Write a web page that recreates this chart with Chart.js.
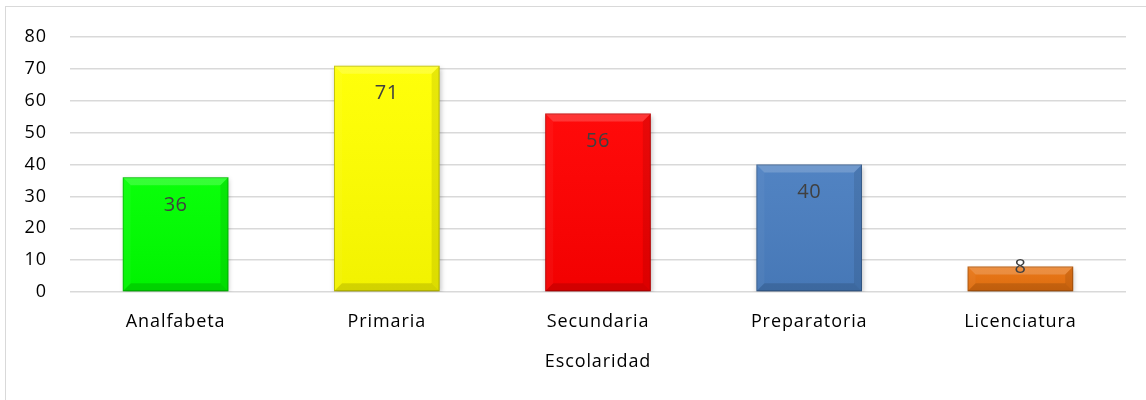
<!DOCTYPE html>
<html>
<head>
<meta charset="utf-8">
<script src="https://cdn.jsdelivr.net/npm/chart.js@4.4.0/dist/chart.umd.min.js"></script>
<style>
  html, body { margin: 0; padding: 0; background: #fff; overflow: hidden; }
  #wrap { position: relative; width: 1146px; height: 400px; }
  #frame { position: absolute; left: 5px; top: 6px; width: 1200px; height: 500px;
           border: 1.5px solid #d9d9d9; box-sizing: border-box; }
  canvas { position: absolute; left: 0; top: 0; }
</style>
</head>
<body>
<div id="wrap">
  <div id="frame"></div>
  <canvas id="chart" width="1146" height="400"></canvas>
</div>
<script>
// Escolaridad: number of people per schooling level
const categories = ['Analfabeta', 'Primaria', 'Secundaria', 'Preparatoria', 'Licenciatura'];
const values = [36, 71, 56, 40, 8];
const barColors = ['#00FF00', '#FFFF00', '#FF0000', '#4A7EC0', '#E8720F'];
const axisTitle = 'Escolaridad';
const yTicks = [0, 10, 20, 30, 40, 50, 60, 70, 80];

const FONT = '"Open Sans", "Noto Sans", sans-serif';

// Bevelled bar faces: light top/left edges, dark right/bottom edges
const bevelPlugin = {
  id: 'bevel',
  beforeDraw(chart) {
    chart.ctx.letterSpacing = '0.9px';
  },
  beforeDatasetsDraw(chart) {
    const ctx = chart.ctx;
    ctx.save();
    ctx.shadowColor = 'rgba(0,0,0,0.25)';
    ctx.shadowBlur = 5;
    ctx.shadowOffsetX = 1;
    ctx.shadowOffsetY = 2;
  },
  afterDatasetsDraw(chart) {
    const ctx = chart.ctx;
    ctx.restore();
    const meta = chart.getDatasetMeta(0);
    meta.data.forEach((bar, i) => {
      const l = bar.x - bar.width / 2, r = bar.x + bar.width / 2;
      const t = bar.y, b = bar.base;
      const h = b - t;
      const d = Math.min(8, h / 2.5);
      const face = (pts, color) => {
        ctx.beginPath();
        ctx.moveTo(pts[0][0], pts[0][1]);
        for (let k = 1; k < pts.length; k++) ctx.lineTo(pts[k][0], pts[k][1]);
        ctx.closePath();
        ctx.fillStyle = color;
        ctx.fill();
      };
      ctx.save();
      const g = ctx.createLinearGradient(0, t, 0, b);
      g.addColorStop(0, 'rgba(255,255,255,0.04)');
      g.addColorStop(1, 'rgba(0,0,0,0.05)');
      ctx.fillStyle = g;
      ctx.fillRect(l, t, r - l, h);
      face([[l, t], [r, t], [r - d, t + d], [l + d, t + d]], 'rgba(255,255,255,0.18)');
      face([[l, t], [l + d, t + d], [l + d, b - d], [l, b]], 'rgba(255,255,255,0.04)');
      face([[r, t], [r, b], [r - d, b - d], [r - d, t + d]], 'rgba(0,0,0,0.09)');
      face([[l, b], [l + d, b - d], [r - d, b - d], [r, b]], 'rgba(0,0,0,0.13)');
      ctx.strokeStyle = 'rgba(0,0,0,0.22)';
      ctx.lineWidth = 1;
      ctx.strokeRect(l + 0.5, t + 0.5, r - l - 1, h - 1);
      ctx.restore();

      // value label just inside the top of the bar
      const v = chart.data.datasets[0].data[i];
      const ly = h > 50 ? t + 28 : t + 1;
      ctx.save();
      ctx.font = '20px ' + FONT;
      ctx.fillStyle = '#404040';
      ctx.textAlign = 'center';
      ctx.textBaseline = 'middle';
      ctx.letterSpacing = '0.5px';
      ctx.fillText(String(v), bar.x, ly);
      ctx.restore();
    });
  }
};

new Chart(document.getElementById('chart'), {
  type: 'bar',
  data: {
    labels: categories,
    datasets: [{
      data: values,
      backgroundColor: barColors,
      borderWidth: 0,
      categoryPercentage: 1,
      barPercentage: 0.5
    }]
  },
  options: {
    responsive: false,
    animation: false,
    devicePixelRatio: 1,
    layout: { padding: { left: 0, right: 20, top: 37, bottom: 0 } },
    plugins: {
      legend: { display: false },
      tooltip: { enabled: false }
    },
    scales: {
      x: {
        grid: { display: false, drawTicks: false },
        border: { display: false },
        ticks: { color: '#000', font: { family: FONT, size: 18 }, padding: 19 },
        title: {
          display: true, text: axisTitle, color: '#000',
          font: { family: FONT, size: 18 }, padding: { top: 10, bottom: 27 }
        },
        afterFit(scale) { scale.height = 108; }
      },
      y: {
        min: 0, max: 80,
        afterBuildTicks(scale) { scale.ticks = yTicks.map(v => ({ value: v })); },
        grid: { color: '#d9d9d9', lineWidth: 1.5, drawTicks: false },
        border: { display: false },
        ticks: { color: '#000', font: { family: FONT, size: 18 }, padding: 23 },
        afterFit(scale) { scale.width = 70; }
      }
    }
  },
  plugins: [bevelPlugin]
});
</script>
</body>
</html>
